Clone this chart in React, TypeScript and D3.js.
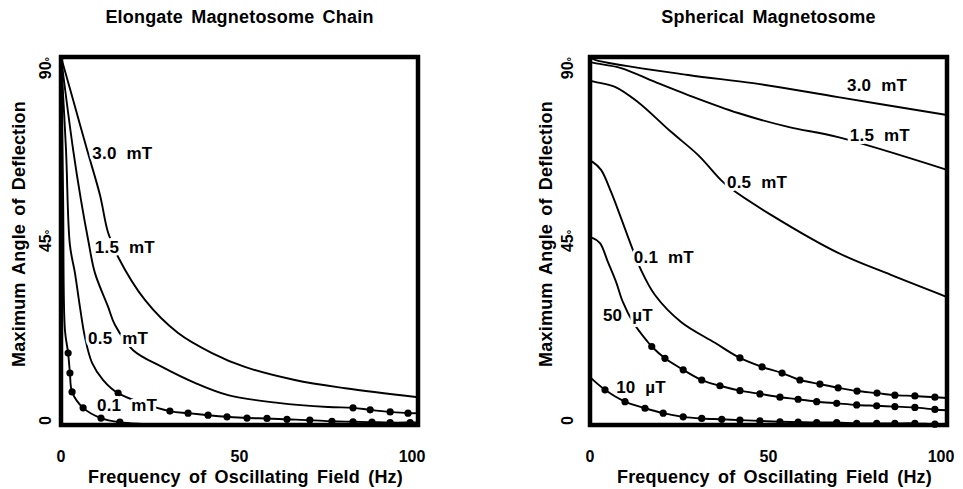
import * as d3 from 'd3'

type Pt = [number, number]

const xTicks = [0, 50, 100]
const yTicks = [0, 45, 90]
const panelTitles = ['Elongate Magnetosome Chain', 'Spherical Magnetosome']
const xTitle = 'Frequency of Oscillating Field (Hz)'
const yTitle = 'Maximum Angle of Deflection'

// Elongate magnetosome chain: [frequency Hz, max angle deg]
const chain30: Pt[] = [[0, 90], [3.4, 79.5], [7.3, 67.3], [10.9, 56.3], [13.2, 47], [16, 41.1], [23.5, 30.6], [32.8, 22.5], [42.3, 17.6], [51.5, 14.2], [65.5, 11], [79.6, 9], [100, 6.8]]
const chain15: Pt[] = [[0, 90], [3.4, 67.3], [5.6, 55], [7.6, 45.3], [9.5, 37.2], [13.2, 28.9], [15.1, 24.5], [20.2, 18.3], [28.3, 14.2], [37.5, 10.3], [46.8, 7.3], [60.8, 5.4], [74.8, 4.4], [100, 2.9]]
const chain15Dots: Pt[] = [[81.8, 4.2], [86.6, 3.7], [92.2, 3.2], [97.2, 2.9]]
const chain05: Pt[] = [[0, 90], [1.4, 67.3], [2.5, 44], [3.9, 37.2], [5.3, 28.9], [6.7, 21.5], [8.7, 15.2], [11.8, 11], [100, 0.6]]
const chain05Dots: Pt[] = [[16, 7.8], [30.5, 3.4], [35.6, 2.9], [41.2, 2.4], [46.5, 2.0], [52.1, 1.7], [57.7, 1.6], [63.3, 1.4], [69.7, 1.2], [75.9, 0.9], [81.8, 0.8], [87.1, 0.7], [92.2, 0.6], [97.8, 0.6]]
const chain01: Pt[] = [[0, 90], [0.6, 55], [1.1, 23.2], [30, 0]]
const chain01Dots: Pt[] = [[2.0, 17.6], [2.5, 12.7], [3.1, 8.1], [6.2, 4.2], [11.2, 1.7], [16.5, 0.7]]

// Spherical magnetosome
const sphere30: Pt[] = [[0, 90], [1.4, 89.3], [27.5, 85.6], [45.7, 83.6], [69.5, 80.2], [100, 75.8]]
const sphere15: Pt[] = [[0, 88.8], [1.4, 88.5], [8.7, 87.3], [18.2, 83.9], [27.5, 80.7], [41.5, 76.3], [55.5, 72.9], [69.5, 70.4], [100, 62.4]]
const sphere05: Pt[] = [[0, 84.2], [1.4, 83.9], [7, 82.7], [13.4, 79], [22.7, 71.7], [30.3, 66], [36.7, 59.9], [39.2, 58], [50.7, 51.4], [69.5, 42.1], [84.3, 36.7], [100, 31.3]]
const sphere01: Pt[] = [[0, 64.6], [0.8, 64.3], [3.1, 62.4], [5.9, 57], [8.7, 50.6], [11.5, 44], [14.3, 37.9], [18.2, 31.8], [25.5, 25.2], [35, 20.1], [100, 6.6]]
const sphere01Dots: Pt[] = [[42, 16.4], [48.2, 14.2], [53.8, 12.7], [58.8, 11], [64.4, 10], [69.5, 9.1], [74.8, 8.3], [80.4, 7.8], [85.4, 7.3], [91, 7.1], [96.6, 6.8]]
const sphere50u: Pt[] = [[0, 45.8], [0.8, 45.7], [2.8, 44.5], [5, 39.9], [7.3, 35], [9.2, 30.1], [12, 25.2], [16.2, 20.3], [100, 3.6]]
const sphere50uDots: Pt[] = [[17.3, 19.2], [21, 16.3], [26.1, 13.5], [31.3, 11], [36.4, 9.6], [42, 8.4], [47.6, 7.6], [53.2, 6.8], [58.3, 6.3], [63.5, 5.7], [69.1, 5.3], [74.7, 4.9], [80.3, 4.7], [85.4, 4.5], [91, 4.3], [96.6, 3.8]]
const sphere10u: Pt[] = [[0, 11.7], [100, 0.2]]
const sphere10uDots: Pt[] = [[4.2, 8.6], [9.8, 5.7], [15.4, 4.1], [20.5, 2.9], [26.1, 2.0], [31.3, 1.6], [36.9, 1.4], [42, 1.2], [47.6, 1.0], [53.2, 0.8], [58.3, 0.7], [63.5, 0.6], [69.1, 0.6], [74.7, 0.4], [80.3, 0.4], [85.4, 0.4], [91, 0.4], [96.6, 0.2]]

const chainLabels = ['3.0 mT', '1.5 mT', '0.5 mT', '0.1 mT']
const chainLabelAt: Pt[] = [[17.2, 66.5], [17.9, 43.5], [16, 21.3], [18.5, 4.9]]
const sphereLabels = ['3.0 mT', '1.5 mT', '0.5 mT', '0.1 mT', '50 µT', '10 µT']
const sphereLabelAt: Pt[] = [[80.4, 83.2], [81.2, 70.9], [46.8, 59.4], [20.7, 41.1], [10.6, 26.9], [14.3, 9.3]]

type Series = { line: Pt[]; dots: Pt[] }

const chainSeries: Series[] = [
  { line: chain30, dots: [] },
  { line: chain15, dots: chain15Dots },
  { line: chain05, dots: chain05Dots },
  { line: chain01, dots: chain01Dots },
]
const sphereSeries: Series[] = [
  { line: sphere30, dots: [] },
  { line: sphere15, dots: [] },
  { line: sphere05, dots: [] },
  { line: sphere01, dots: sphere01Dots },
  { line: sphere50u, dots: sphere50uDots },
  { line: sphere10u, dots: sphere10uDots },
]

const W = 963
const H = 489
const FONT = '"Liberation Sans", Arial, Helvetica, sans-serif'

type PanelProps = {
  left: number
  title: string
  series: Series[]
  labels: string[]
  labelAt: Pt[]
  tickX: number
  yTitleX: number
}

function Panel({ left, title, series, labels, labelAt, tickX, yTitleX }: PanelProps) {
  const top = 57
  const bottom = 425
  const width = 357
  const x = d3.scaleLinear().domain([0, 100]).range([left, left + width])
  const y = d3.scaleLinear().domain([0, 90]).range([bottom, top])
  const line = d3.line<Pt>()
    .x(d => x(d[0]))
    .y(d => y(d[1]))
    .curve(d3.curveCatmullRom.alpha(0.5))
  const cx = left + width / 2

  return (
    <g fontFamily={FONT} fontWeight="bold" fill="#000">
      <text x={cx} y={23} textAnchor="middle" fontSize={18} wordSpacing={3} letterSpacing={0.2}>{title}</text>

      {series.map((s, i) => {
        const pts = [...s.line, ...s.dots].sort((a, b) => a[0] - b[0])
        return (
          <g key={i}>
            <path d={line(pts) ?? ''} fill="none" stroke="#000" strokeWidth={1.9} />
            {s.dots.map((d, j) => (
              <circle key={j} cx={x(d[0])} cy={y(d[1])} r={3.6} fill="#000" />
            ))}
          </g>
        )
      })}

      {labels.map((l, i) => (
        <text key={l + i} x={x(labelAt[i][0])} y={y(labelAt[i][1]) + 6} textAnchor="middle"
          fontSize={17} wordSpacing={5} letterSpacing={0.2}
          stroke="#fff" strokeWidth={6} strokeLinejoin="round" paintOrder="stroke">{l}</text>
      ))}

      <rect x={left} y={top} width={width} height={bottom - top} fill="none" stroke="#000" strokeWidth={4.5} />

      {xTicks.map(t => (
        <text key={t} x={x(t) + (t === 100 ? -6 : 0)} y={462} textAnchor="middle" fontSize={16}>{t}</text>
      ))}
      <text x={cx + 6} y={483} textAnchor="middle" fontSize={18} wordSpacing={3} letterSpacing={0.2}>{xTitle}</text>

      {yTicks.map(t => (
        <text key={t} transform={`translate(${tickX},${y(t)}) rotate(-90)`}
          textAnchor={t === 0 ? 'start' : t === 90 ? 'end' : 'middle'} fontSize={16}>
          {t}
          {t !== 0 && <tspan fontSize={11} dy={2}>°</tspan>}
        </text>
      ))}
      <text transform={`translate(${yTitleX},${(top + bottom) / 2 - 7}) rotate(-90)`} textAnchor="middle"
        fontSize={18} wordSpacing={3} letterSpacing={0.2} dy="0.35em">{yTitle}</text>
    </g>
  )
}

export default function App() {
  return (
    <div style={{ position: 'absolute', left: 0, top: 0, width: W, height: H, background: '#fff' }}>
      <svg width={W} height={H} style={{ display: 'block' }}>
        <rect width={W} height={H} fill="#fff" />
        <Panel left={61} title={panelTitles[0]} series={chainSeries} labels={chainLabels}
          labelAt={chainLabelAt} tickX={51} yTitleX={19} />
        <Panel left={590} title={panelTitles[1]} series={sphereSeries} labels={sphereLabels}
          labelAt={sphereLabelAt} tickX={573} yTitleX={546} />
      </svg>
    </div>
  )
}
